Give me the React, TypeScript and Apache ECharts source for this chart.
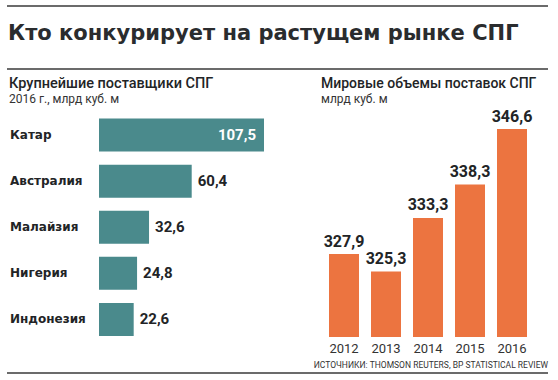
import React, { useEffect, useRef } from "react";
import * as echarts from "echarts";

const suppliers = ["Катар", "Австралия", "Малайзия", "Нигерия", "Индонезия"];
const supplierValues = [107.5, 60.4, 32.6, 24.8, 22.6];
const years = ["2012", "2013", "2014", "2015", "2016"];
const worldValues = [327.9, 325.3, 333.3, 338.3, 346.6];

const TEAL = "#4a8a8c";
const ORANGE = "#ec7440";
const DARK = "#222426";
const LINE = "#6b6b6b";

const fmt = (v: number) => String(v).replace(".", ",");

export default function App() {
  const ref = useRef<HTMLDivElement>(null);
  useEffect(() => {
    document.body.style.margin = "0";
    const chart = echarts.init(ref.current!, undefined, { renderer: "svg" });
    chart.setOption({
      animation: false,
      backgroundColor: "#ffffff",
      textStyle: { fontFamily: "Roboto" },
      graphic: [
        { type: "line", shape: { x1: 7, y1: 6, x2: 548, y2: 6 }, style: { stroke: LINE, lineWidth: 2 } },
        { type: "line", shape: { x1: 7, y1: 69, x2: 548, y2: 69 }, style: { stroke: LINE, lineWidth: 2 } },
        { type: "line", shape: { x1: 7, y1: 373, x2: 548, y2: 373 }, style: { stroke: LINE, lineWidth: 2 } },
        {
          type: "text", x: 8, y: 22,
          style: { text: "Кто конкурирует на растущем рынке СПГ", font: "bold 21px 'DejaVu Sans'", fill: "#2a2c2e" },
        },
        {
          type: "text", x: 9, y: 76,
          style: { text: "Крупнейшие поставщики СПГ", font: "500 14.5px Roboto", fill: DARK },
        },
        {
          type: "text", x: 9, y: 93,
          style: { text: "2016 г., млрд куб. м", font: "12px Roboto", fill: "#333" },
        },
        {
          type: "text", x: 321, y: 76,
          style: { text: "Мировые объемы поставок СПГ", font: "500 14px Roboto", fill: DARK },
        },
        {
          type: "text", x: 321, y: 93,
          style: { text: "млрд куб. м", font: "12px Roboto", fill: "#333" },
        },
        {
          type: "text", x: 548, y: 360,
          style: {
            text: "ИСТОЧНИКИ: THOMSON REUTERS, BP STATISTICAL REVIEW",
            font: "8.5px Roboto",
            fill: "#333", align: "right",
          },
        },
      ],
      grid: [
        { left: 99, top: 112, width: 165, height: 230.5 },
        { left: 323, top: 129, width: 210, height: 208 },
      ],
      xAxis: [
        { gridIndex: 0, type: "value", min: 0, max: 107.5, show: false },
        {
          gridIndex: 1, type: "category", data: years,
          axisLine: { show: false }, axisTick: { show: false },
          axisLabel: { color: "#333", fontSize: 13, margin: 5, fontFamily: "Roboto" },
        },
      ],
      yAxis: [
        {
          gridIndex: 0, type: "category", data: suppliers, inverse: true,
          axisLine: { show: false }, axisTick: { show: false },
          axisLabel: { align: "left", margin: 89, color: DARK, fontSize: 12, fontWeight: "bold", fontFamily: "DejaVu Sans" },
        },
        { gridIndex: 1, type: "value", min: 315.5, max: 346.6, show: false },
      ],
      series: [
        {
          type: "bar", xAxisIndex: 0, yAxisIndex: 0, barWidth: 33,
          data: supplierValues.map((v, i) =>
            i === 0
              ? { value: v, label: { position: "insideRight", color: "#fff", distance: 8 } }
              : v
          ),
          itemStyle: { color: TEAL },
          label: {
            show: true, position: "right", distance: 6, color: DARK,
            fontSize: 15, fontWeight: "bold", fontFamily: "Roboto",
            formatter: (p: any) => fmt(p.value),
          },
        },
        {
          type: "bar", xAxisIndex: 1, yAxisIndex: 1, barWidth: 30,
          data: worldValues,
          itemStyle: { color: ORANGE },
          label: {
            show: true, position: "top", distance: 5, color: DARK,
            fontSize: 16, fontWeight: "bold", fontFamily: "Roboto",
            formatter: (p: any) => fmt(p.value),
          },
        },
      ],
    });
    return () => chart.dispose();
  }, []);
  return <div ref={ref} style={{ width: 558, height: 380 }} />;
}
